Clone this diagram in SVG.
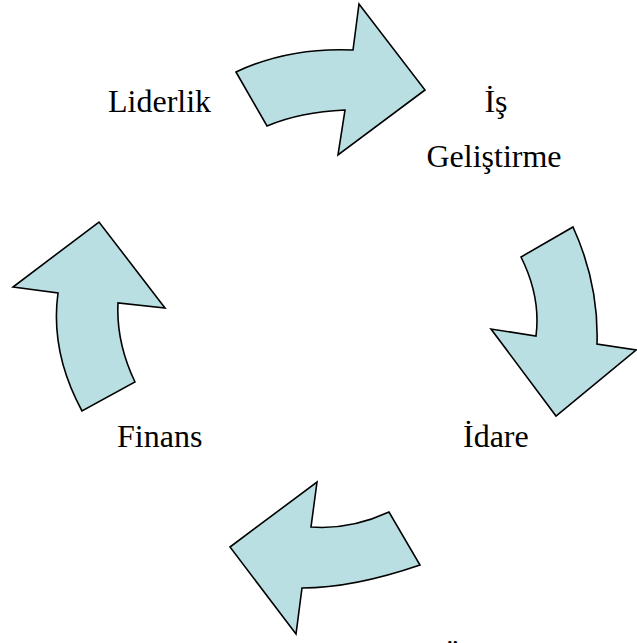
<svg xmlns="http://www.w3.org/2000/svg" width="637" height="643" viewBox="0 0 637 643">
<style>
.arrow{fill:#B9DFE3;stroke:#000;stroke-width:1.6}
</style>
<rect width="637" height="643" fill="#fff"/>
<g id="connectors">
<path class="arrow" d="M236,72 Q289,47 353,50 L359,4 L425,90 L338,155 L345,110 Q300,112 267,126 Z"/>
<path class="arrow" d="M573,227 Q599,284 597,344 L636,350 L556,416 L491,329 L536,336 Q541,297 521,257 Z"/>
<path class="arrow" d="M420,565 Q353,588 302,588 L296,634 L230,547 L317,482 L311,527 Q350,530 389,512 Z"/>
<path class="arrow" d="M82,411 Q50,352 58,293 L13,287 L99,222 L165,308 L118,303 Q116,342 135,382 Z"/>
</g>
<g id="liderlik"><text x="108" y="112" style="font-family:'Liberation Serif';font-size:32px">Liderlik</text></g>
<g id="is-gelistirme"><text x="496" y="112" text-anchor="middle" style="font-family:'Liberation Serif';font-size:32px">&#304;&#351;</text><text x="494" y="167" text-anchor="middle" style="font-family:'Liberation Serif';font-size:32px">Geli&#351;tirme</text></g>
<g id="idare"><text x="463" y="447" style="font-family:'Liberation Serif';font-size:32px">&#304;dare</text></g>
<g id="finans"><text x="117" y="447" style="font-family:'Liberation Serif';font-size:32px">Finans</text></g>
<g id="uretim"><text x="441" y="667" style="font-family:'Liberation Serif';font-size:32px">&#220;retim</text></g>
</svg>
